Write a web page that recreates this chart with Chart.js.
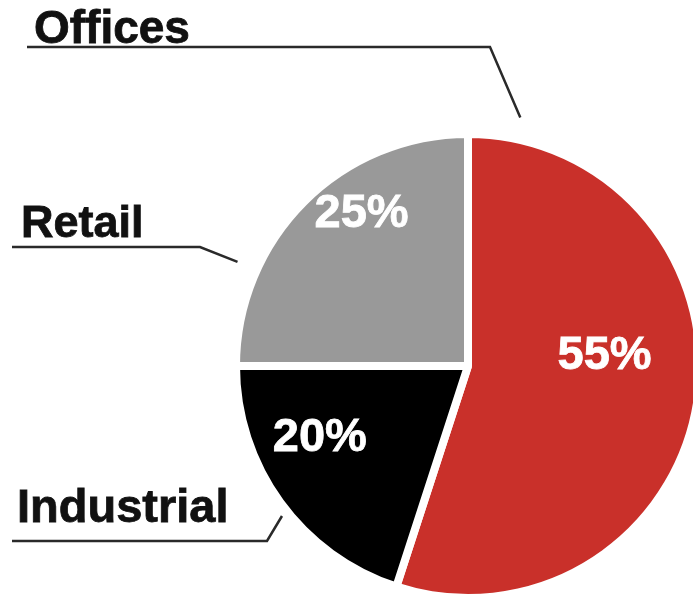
<!DOCTYPE html>
<html>
<head>
<meta charset="utf-8">
<script src="https://cdn.jsdelivr.net/npm/chart.js@4/dist/chart.umd.min.js"></script>
<style>
  html, body { margin: 0; padding: 0; background: #fff; overflow: hidden; }
  #wrap { position: relative; width: 693px; height: 598px; overflow: hidden; }
  #wrap canvas { position: absolute; left: 0; top: 0; }
</style>
</head>
<body>
<div id="wrap"><canvas id="pie" width="710" height="610"></canvas></div>
<script>
const sectors = ['Offices', 'Industrial', 'Retail'];
const shares = [55, 20, 25];
const sectorColors = ['#c9302a', '#000000', '#999999'];

// percentage label inside each slice: fraction along the sweep, fraction of radius
const pctPlacement = [
    { t: 0.434, r: 0.59 },
    { t: 0.64, r: 0.71 },
    { t: 0.61, r: 0.798 }
];

// name labels outside the pie with an underline and a short leader to the slice
const callouts = [
    { text: 'Offices',    size: 46, tx: 34, ty: 43,  lineY: 47,  x0: 27, elbowX: 490, t: 0.06, d: 1.095 },
    { text: 'Industrial', size: 47, tx: 17, ty: 522, lineY: 541, x0: 12, elbowX: 267, t: 0.46, d: 1.03 },
    { text: 'Retail',     size: 45, tx: 21, ty: 237, lineY: 247, x0: 12, elbowX: 200, t: 0.27, d: 1.09 }
];

const pieLabels = {
    id: 'pieLabels',
    afterDatasetsDraw(chart) {
        const ctx = chart.ctx;
        const arcs = chart.getDatasetMeta(0).data;
        ctx.save();

        // percentages
        ctx.fillStyle = '#ffffff';
        ctx.strokeStyle = '#ffffff';
        ctx.lineWidth = 0.8;
        ctx.font = 'bold 47px "Liberation Sans", Arial, sans-serif';
        ctx.textAlign = 'center';
        ctx.textBaseline = 'middle';
        arcs.forEach((arc, i) => {
            const p = pctPlacement[i];
            const a = arc.startAngle + (arc.endAngle - arc.startAngle) * p.t;
            const r = arc.outerRadius * p.r;
            const x = arc.x + Math.cos(a) * r;
            const y = arc.y + Math.sin(a) * r;
            ctx.fillText(shares[i] + '%', x, y);
            ctx.strokeText(shares[i] + '%', x, y);
        });

        // sector names + leader lines
        ctx.fillStyle = '#111111';
        ctx.textAlign = 'left';
        ctx.textBaseline = 'alphabetic';
        callouts.forEach((c, i) => {
            const arc = arcs[i];
            const a = arc.startAngle + (arc.endAngle - arc.startAngle) * c.t;
            const r = arc.outerRadius * c.d;
            ctx.font = 'bold ' + c.size + 'px "Liberation Sans", Arial, sans-serif';
            ctx.strokeStyle = '#111111';
            ctx.lineWidth = 0.8;
            ctx.fillText(c.text, c.tx, c.ty);
            ctx.strokeText(c.text, c.tx, c.ty);

            ctx.strokeStyle = '#2a2a2a';
            ctx.lineWidth = 2.5;
            ctx.beginPath();
            ctx.moveTo(c.x0, c.lineY);
            ctx.lineTo(c.elbowX, c.lineY);
            ctx.lineTo(arc.x + Math.cos(a) * r, arc.y + Math.sin(a) * r);
            ctx.stroke();
        });
        ctx.restore();
    }
};

new Chart(document.getElementById('pie'), {
    type: 'pie',
    data: {
        labels: sectors,
        datasets: [{
            data: shares,
            backgroundColor: sectorColors,
            borderColor: '#ffffff',
            borderWidth: 8
        }]
    },
    options: {
        responsive: false,
        animation: false,
        layout: { padding: { left: 232, top: 130, right: 6, bottom: 8 } },
        plugins: {
            legend: { display: false },
            tooltip: { enabled: false }
        }
    },
    plugins: [pieLabels]
});
</script>
</body>
</html>
